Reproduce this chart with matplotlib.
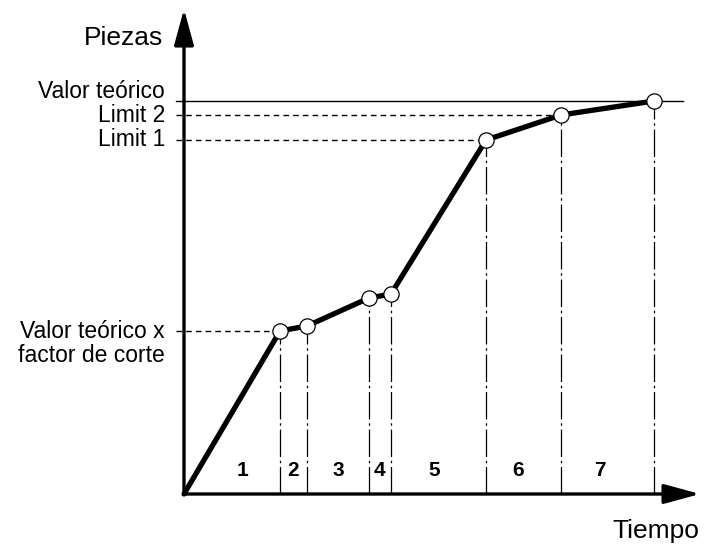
import matplotlib.pyplot as plt

# breakpoints of the curve (time, pieces), origin at the axis corner
tiempo = [0, 96, 123, 185, 207, 302, 377, 470]
piezas = [0, 163, 168, 196, 200, 354, 379, 393]

valor_teorico = 393
limit2 = 379
limit1 = 354
corte = 163

tramos = ["1", "2", "3", "4", "5", "6", "7"]

plt.rcParams['font.family'] = ['Liberation Sans', 'DejaVu Sans']

fig = plt.figure(figsize=(7.15, 5.45), dpi=100)
ax = fig.add_axes([0, 0, 1, 1])
ax.set_xlim(-184, 715 - 184)
ax.set_ylim(494 - 545, 494)
ax.axis('off')

# axes with arrows
arrow = dict(arrowstyle="-|>,head_length=2.2,head_width=0.6",
             lw=2.4, color="black", shrinkA=0, shrinkB=0)
ax.annotate("", xy=(516, 0), xytext=(0, 0), arrowprops=arrow)
ax.annotate("", xy=(0, 485), xytext=(0, 0), arrowprops=arrow)

# reference lines
ax.plot([-8, 499], [valor_teorico, valor_teorico], color="black", lw=1)
ax.plot([-8, tiempo[6]], [limit2, limit2], color="black", lw=1, ls=(0, (4, 3)))
ax.plot([-8, tiempo[5]], [limit1, limit1], color="black", lw=1, ls=(0, (4, 3)))
ax.plot([-8, tiempo[1]], [corte, corte], color="black", lw=1, ls=(0, (4, 3)))

# vertical dash-dot drops
for t, p in zip(tiempo[1:], piezas[1:]):
    ax.plot([t, t], [0, p], color="black", lw=0.9, ls=(0, (22, 3, 2, 3)))

# curve
ax.plot(tiempo, piezas, color="black", lw=3.8, solid_joinstyle="round",
        solid_capstyle="round", zorder=3)
ax.plot(tiempo[1:], piezas[1:], ls="none", marker="o", ms=11,
        mfc="white", mec="black", mew=0.9, zorder=4)

# section numbers
tramo_x = [59, 109, 154, 195, 250, 334, 416]
for xm, lab in zip(tramo_x, tramos):
    ax.text(xm, 23, lab, ha="center", va="center", fontsize=15,
            fontweight="bold")

fs = 16.5
ax.text(-21, 456, "Piezas", ha="right", va="center", fontsize=19)
ax.text(-19, 403, "Valor teórico", ha="right", va="center", fontsize=fs)
ax.text(-19, 379, "Limit 2", ha="right", va="center", fontsize=fs)
ax.text(-19, 354, "Limit 1", ha="right", va="center", fontsize=fs)
ax.text(-19, 163, "Valor teórico x", ha="right", va="center", fontsize=fs)
ax.text(-19, 138, "factor de corte", ha="right", va="center", fontsize=fs)
ax.text(472, -37, "Tiempo", ha="center", va="center", fontsize=19)

fig.savefig("out.png", dpi=100)
